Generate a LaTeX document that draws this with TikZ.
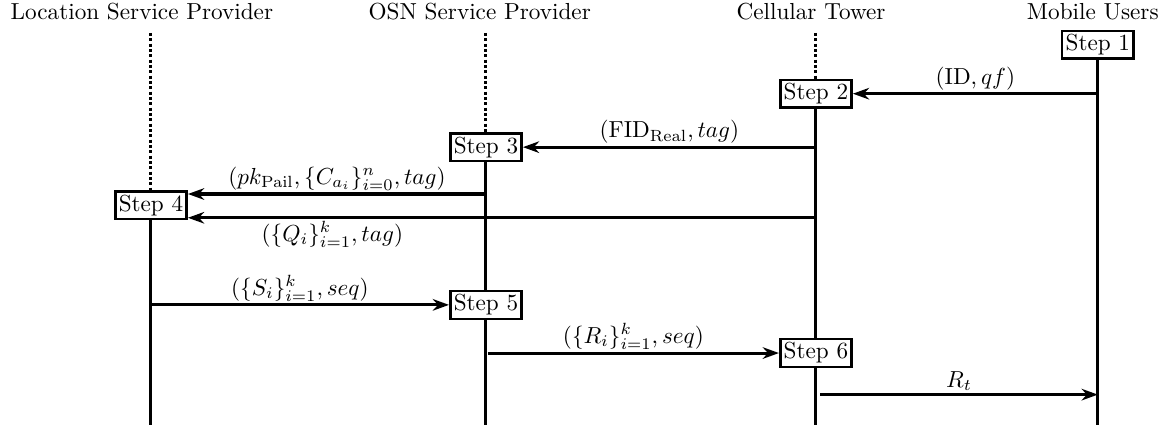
\documentclass[tikz,border=0pt]{standalone}
\usepackage{amsmath}
\usepackage{amssymb}
\usetikzlibrary{arrows.meta,positioning,calc}

\begin{document}
\begin{tikzpicture}[
    stepbox/.style={rectangle, draw, line width=1.1pt, inner sep=1.5pt, fill=white},
    lifeline/.style={line width=1.3pt},
    idleline/.style={line width=1.3pt, densely dotted},
    msg/.style={-{Stealth[length=7pt,width=5pt]}, line width=1.3pt},
    lbl/.style={inner sep=1pt}
]
    \useasboundingbox (0,0) rectangle (17.76,6.56);

    % Parties
    \node (lsp) at (2.15,6.38) {Location Service Provider};
    \node (osn) at (7.27,6.38) {OSN Service Provider};
    \node (cell) at (12.29,6.38) {Cellular Tower};
    \node (mob) at (16.56,6.38) {Mobile Users};

    % Steps
    \node[stepbox] (step1) at (16.636,5.88) {Step 1};
    \node[stepbox] (step2) at (12.364,5.14) {Step 2};
    \node[stepbox] (step3) at (7.364,4.33) {Step 3};
    \node[stepbox] (step4) at (2.288,3.45) {Step 4};
    \node[stepbox] (step5) at (7.364,1.94) {Step 5};
    \node[stepbox] (step6) at (12.364,1.21) {Step 6};

    % Lifelines
    \coordinate (lsptop) at (2.288,6.06);
    \coordinate (osntop) at (7.364,6.06);
    \coordinate (celltop) at (12.364,6.06);
    \coordinate (lspend) at (2.288,0.12);
    \coordinate (osnend) at (7.364,0.12);
    \coordinate (cellend) at (12.364,0.12);
    \coordinate (mobend) at (16.636,0.12);
    \draw[idleline] (lsptop) -- (step4.north);
    \draw[idleline] (osntop) -- (step3.north);
    \draw[idleline] (celltop) -- (step2.north);
    \draw[lifeline] (step4.south) -- (lspend);
    \draw[lifeline] (step3.south) -- (step5.north);
    \draw[lifeline] (step5.south) -- (osnend);
    \draw[lifeline] (step2.south) -- (step6.north);
    \draw[lifeline] (step6.south) -- (cellend);
    \draw[lifeline] (step1.south) -- (mobend);

    % Messages
    \coordinate (pkin) at ([yshift=0.17cm]step4.east);
    \coordinate (qin) at ([yshift=-0.19cm]step4.east);
    \coordinate (rtout) at (12.43,0.58);
    \draw[msg] (step2.east -| step1) -- (step2.east) node[midway, above, lbl] {$(\mathrm{ID}, qf)$};
    \draw[msg] (step3.east -| step2) -- (step3.east) node[midway, above, lbl] {$(\mathrm{FID}_{\mathrm{Real}}, tag)$};
    \draw[msg] (pkin -| step3) -- (pkin) node[midway, above, lbl] {$(pk_{\mathrm{Pail}}, \{C_{a_i}\}_{i=0}^{n}, tag)$};
    \draw[msg] (qin -| step2) -- (qin) node[pos=0.77, below, lbl] {$(\{Q_i\}_{i=1}^{k}, tag)$};
    \draw[msg] (step5.west -| step4) -- (step5.west) node[midway, above, lbl] {$(\{S_i\}_{i=1}^{k}, seq)$};
    \draw[msg] ([xshift=0.03cm]step6.west -| step5) -- (step6.west) node[midway, above, lbl] {$(\{R_i\}_{i=1}^{k}, seq)$};
    \draw[msg] (rtout) -- (rtout -| step1) node[midway, above, lbl] {$R_t$};
\end{tikzpicture}
\end{document}
